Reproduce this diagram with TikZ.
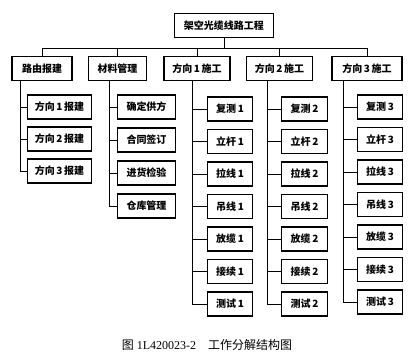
\documentclass[tikz,border=0pt]{standalone}
\usepackage{fontspec}
\setmainfont{Liberation Serif}
\newfontfamily\cjk{Noto Sans CJK SC}
\usepackage{tikz}
\usetikzlibrary{positioning,calc}

\tikzset{
    wbsbox/.style={draw,line width=0.9pt,minimum height=18pt,inner sep=1pt,
        font=\cjk\bfseries\fontsize{7.5}{9}\selectfont},
    wbsline/.style={line width=0.55pt}
}

\begin{document}
\begin{tikzpicture}[x=0.75pt,y=-0.75pt]
\useasboundingbox (0,0) rectangle (412,356);

% Top
\node[wbsbox,minimum width=74pt] (top) at (224,25.5) {架空光缆线路工程};
\coordinate (bus) at (224,48);
\draw[wbsline] (top) -- (bus);

% Second level
\node[wbsbox,minimum width=45pt] (rb) at (42,68.5) {路由报建};
\node[wbsbox,minimum width=44pt] (cl) at (117.5,68.5) {材料管理};
\node[wbsbox,minimum width=49.5pt] (d1) at (197,68.5) {方向\,1\,施工};
\node[wbsbox,minimum width=50pt] (d2) at (279.5,68.5) {方向\,2\,施工};
\node[wbsbox,minimum width=52.5pt] (d3) at (367,68.5) {方向\,3\,施工};
\foreach \p in {rb,cl,d1,d2,d3}
    \draw[wbsline] (bus) -| (\p.north);

% Stems under the second level
\path (rb.south west) ++(9,0) coordinate (rb-stem);
\path (cl.south west) ++(22,0) coordinate (cl-stem);
\path (d1.south west) ++(29,0) coordinate (d1-stem);
\path (d2.south west) ++(22,0) coordinate (d2-stem);
\path (d3.south west) ++(12,0) coordinate (d3-stem);

% Route permits
\foreach \k [count=\i] in {1,2,3}{
    \node[wbsbox,minimum width=48.5pt] (rb-\i) at (59.5,75+32*\i) {方向\,\k\,报建};
    \draw[wbsline] (rb-stem) |- (rb-\i.west);
}

% Materials
\foreach \t [count=\i] in {确定供方,合同签订,进货检验,仓库管理}{
    \node[wbsbox,minimum width=44pt] (cl-\i) at (146.5,74+33*\i) {\t};
    \draw[wbsline] (cl-stem) |- (cl-\i.west);
}

% Construction, three directions
\foreach \k/\cx/\y in {1/230/109,2/304.5/109,3/380/107}{
    \foreach \t [count=\i] in {复测,立杆,拉线,吊线,放缆,接续,测试}{
        \node[wbsbox,minimum width=34pt] (d\k-\i) at (\cx,\y-32.5+32.5*\i) {\t\,\k};
        \draw[wbsline] (d\k-stem) |- (d\k-\i.west);
    }
}

% Caption
\node (cap) at (207,345) {\fontsize{9}{11}\selectfont{\cjk 图} 1L420023-2\quad{\cjk 工作分解结构图}};

\end{tikzpicture}
\end{document}
